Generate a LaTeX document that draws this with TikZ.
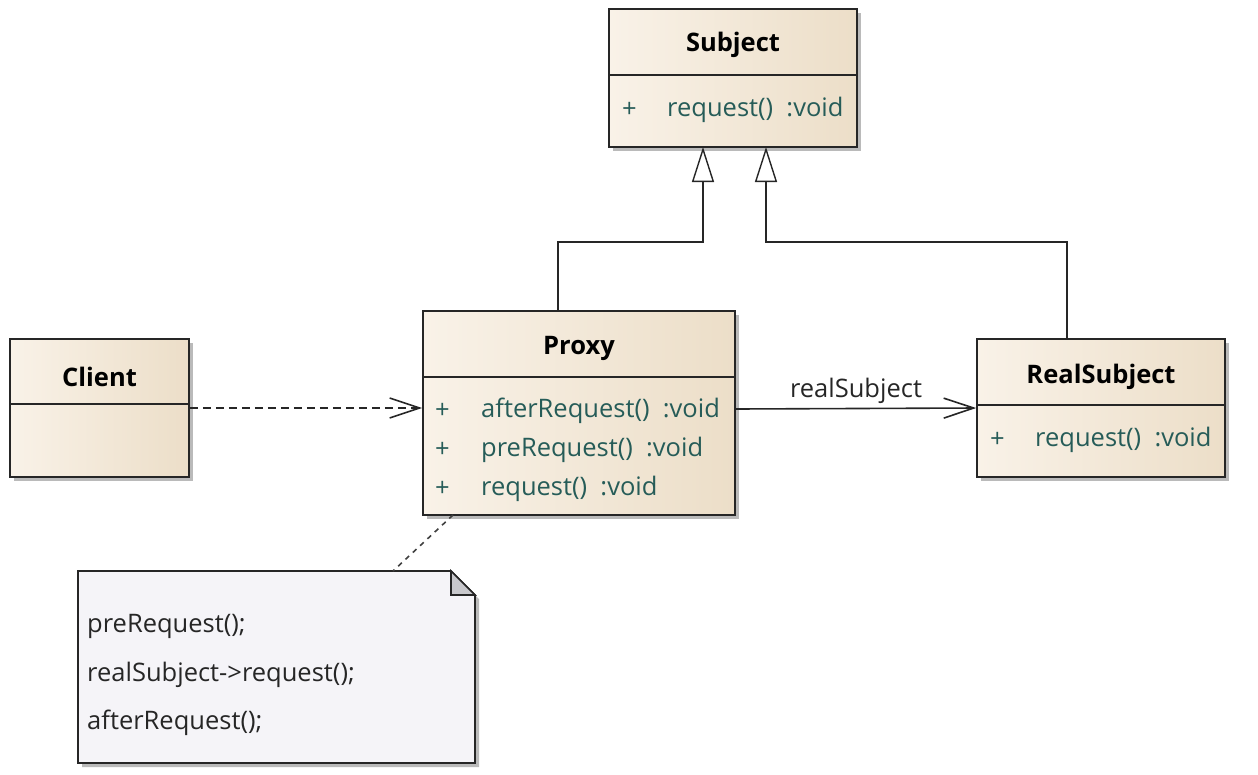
\documentclass[tikz,border=0pt]{standalone}
\usepackage{fontspec}
\setmainfont{Open Sans}
\usetikzlibrary{arrows.meta,shadows,calc}
\definecolor{clsA}{RGB}{249,242,232}
\definecolor{clsB}{RGB}{236,222,200}
\definecolor{optxt}{RGB}{38,92,88}
\definecolor{notefill}{RGB}{245,244,248}
\definecolor{foldfill}{RGB}{200,200,204}
\tikzset{
  classbox/.style={draw=black!85, line width=1.6pt, left color=clsA, right color=clsB,
    inner sep=0pt, drop shadow={shadow xshift=4pt, shadow yshift=-4pt, fill=black!45, opacity=0.6}},
  titletxt/.style={font=\bfseries\fontsize{25.5}{30}\selectfont, text=black, inner sep=0pt},
  optext/.style={font=\fontsize{25.5}{30}\selectfont, text=optxt, anchor=west, inner sep=0pt},
  notetxt/.style={font=\fontsize{25.5}{30}\selectfont, text=black!85, anchor=west, inner sep=0pt},
  divider/.style={draw=black!85, line width=1.6pt},
  inherit/.style={draw=black!85, line width=1.6pt, -{Triangle[length=35pt,width=22pt,fill=white,line width=1.4pt]}},
  depend/.style={draw=black!85, line width=1.6pt, dash pattern=on 8pt off 5pt, -{Straight Barb[length=30pt,width=20pt,line width=1.6pt]}},
  assoc/.style={draw=black!85, line width=1.6pt, -{Straight Barb[length=30pt,width=20pt,line width=1.6pt]}},
  notelink/.style={draw=black!75, line width=1.6pt, dash pattern=on 5pt off 5pt},
}
\begin{document}
\begin{tikzpicture}[x=1pt,y=-1pt]
\useasboundingbox (0,0) rectangle (1258,774);
% Subject
\node[classbox, minimum width=248pt, minimum height=138pt] (subject) at (733,78) {};
\draw[divider] (609,75) -- (857,75);
\node[titletxt] (subjectT) at (733,45) {Subject};
\node[optext] (subjectP) at (622,110) {+};
\node[optext] (subjectO) at (667,110) {request()\ \ :void};
% Proxy
\node[classbox, minimum width=312pt, minimum height=204pt] (proxy) at (579,413) {};
\draw[divider] (423,377) -- (735,377);
\node[titletxt] (proxyT) at (579,348) {Proxy};
\node[optext] (proxyP1) at (435,411) {+};
\node[optext] (proxyO1) at (481,411) {afterRequest()\ \ :void};
\node[optext] (proxyP2) at (435,450) {+};
\node[optext] (proxyO2) at (481,450) {preRequest()\ \ :void};
\node[optext] (proxyP3) at (435,489) {+};
\node[optext] (proxyO3) at (481,489) {request()\ \ :void};
% Client
\node[classbox, minimum width=179pt, minimum height=138pt] (client) at (99.5,408) {};
\draw[divider] (10,404) -- (189,404);
\node[titletxt] (clientT) at (99.5,377) {Client};
% RealSubject
\node[classbox, minimum width=248pt, minimum height=138pt] (real) at (1101,408) {};
\draw[divider] (977,405) -- (1225,405);
\node[titletxt] (realT) at (1101,377) {RealSubject};
\node[optext] (realP) at (990,440) {+};
\node[optext] (realO) at (1035,440) {request()\ \ :void};
% Note
\coordinate (nA) at (78,571);
\coordinate (nB) at (451,571);
\coordinate (nC) at (475,595);
\coordinate (nD) at (475,763);
\coordinate (nE) at (78,763);
\fill[black!45, opacity=0.6] ($(nA)+(4,4)$) -- ($(nB)+(4,4)$) -- ($(nC)+(4,4)$) -- ($(nD)+(4,4)$) -- ($(nE)+(4,4)$) -- cycle;
\draw[fill=notefill, draw=black!85, line width=1.6pt] (nA) -- (nB) -- (nC) -- (nD) -- (nE) -- cycle;
\draw[fill=foldfill, draw=black!85, line width=1.6pt] (nB) -- (451,595) -- (nC) -- cycle;
\node[notetxt] (note1) at (87,626) {preRequest();};
\node[notetxt] (note2) at (87,675) {realSubject->request();};
\node[notetxt] (note3) at (87,723) {afterRequest();};
% connectors
\coordinate (g1) at (558,311);
\coordinate (g1b) at (703,242);
\coordinate (g1t) at (703,147);
\draw[inherit] (g1) |- (g1b) -- (g1t);
\coordinate (g2) at (1067,339);
\coordinate (g2b) at (766,242);
\coordinate (g2t) at (766,147);
\draw[inherit] (g2) |- (g2b) -- (g2t);
\draw[depend] (client.east |- 0,408) -- (proxy.west |- 0,408);
\draw[assoc] (proxy.east |- 0,409) -- node[above=4pt, font=\fontsize{25.5}{30}\selectfont, text=black!85, inner sep=0pt] (assocL) {realSubject} (real.west |- 0,408);
\coordinate (lk) at (453,515);
\coordinate (lk2) at (393,571);
\draw[notelink] (lk) -- (lk2);
\end{tikzpicture}
\end{document}
